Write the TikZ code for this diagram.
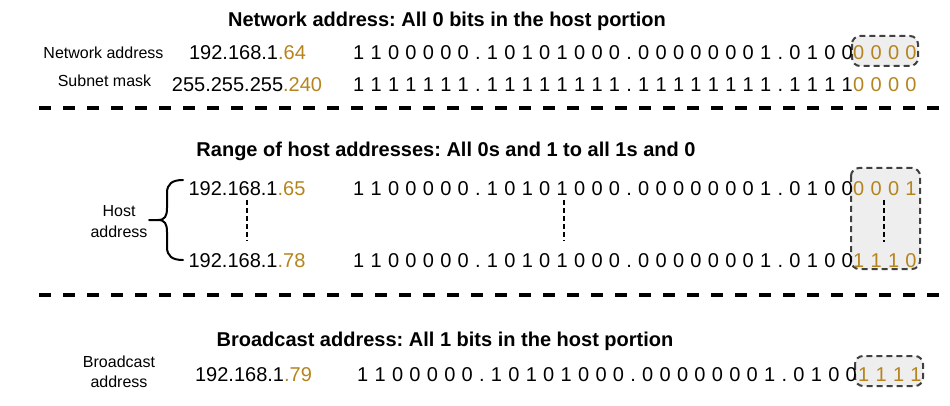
\documentclass[tikz,border=0pt]{standalone}
\usepackage{fontspec}
\usepackage{xcolor}
\setmainfont{Liberation Sans}
\newfontfamily\bitfont[LetterSpace=31.5,Kerning=Off]{Liberation Sans}
\definecolor{hostpart}{RGB}{181,132,30}
\definecolor{hostfill}{RGB}{238,238,238}
\definecolor{boxline}{RGB}{64,64,64}
\newcommand{\hp}[1]{\textcolor{hostpart}{#1}}
\tikzstyle{heading}=[anchor=base, font=\fontsize{20}{24}\selectfont\bfseries]
\tikzstyle{rowname}=[anchor=base, font=\fontsize{16}{19}\selectfont]
\tikzstyle{ip}=[anchor=base, font=\fontsize{20}{24}\selectfont]
\tikzstyle{bits}=[anchor=base west, inner sep=0pt, font=\fontsize{20}{24}\selectfont\bitfont]
\tikzstyle{hostbits}=[bits, text=hostpart]
\tikzstyle{hostbox}=[draw=boxline, fill=hostfill, line width=2pt, dash pattern=on 6pt off 4pt, rounded corners=8pt]
\tikzstyle{divider}=[line width=4pt, dash pattern=on 12pt off 12pt]
\tikzstyle{more}=[line width=2pt, dash pattern=on 5pt off 3pt]
\tikzstyle{brace}=[line width=2pt, line cap=round]
\frenchspacing

\begin{document}
\begin{tikzpicture}[x=1pt,y=-1pt]
  \useasboundingbox (0,0) rectangle (950,406);

  %% Network address
  \draw (447,27) node[heading] (T1) {Network address: All 0 bits in the host portion};
  \draw[hostbox] (852,36) rectangle (918,66);
  \draw (103.5,59) node[rowname] (L1) {Network address};
  \draw (247.5,60) node[ip] (A1) {192.168.1\hp{.64}};
  \draw (353,60) node[bits] (B1) {1100000.10101000.00000001.0100};
  \draw (853,60) node[hostbits] (H1) {0000};

  \draw (104.5,87) node[rowname] (L2) {Subnet mask};
  \draw (247,91.5) node[ip] (A2) {255.255.255\hp{.240}};
  \draw (353,92) node[bits] (B2) {1111111.11111111.11111111.1111};
  \draw (853,92) node[hostbits] (H2) {0000};

  \draw[divider] (39,108) -- (950,108);

  %% Range of host addresses
  \draw (446,157) node[heading] (T2) {Range of host addresses: All 0s and 1 to all 1s and 0};
  \draw[hostbox] (851,168) rectangle (920,269);
  \draw (119,217) node[rowname] (L3) {Host};
  \draw (119,237) node[rowname] (L4) {address};
  \draw[brace] (183,180) .. controls (172,180) and (167,184) .. (167,193) -- (167,208)
    .. controls (167,216) and (165,220) .. (158,220) -- (149,220);
  \draw[brace] (183,260) .. controls (172,260) and (167,256) .. (167,247) -- (167,232)
    .. controls (167,224) and (165,220) .. (158,220);
  \draw (247,195.5) node[ip] (A3) {192.168.1\hp{.65}};
  \draw (353,195.5) node[bits] (B3) {1100000.10101000.00000001.0100};
  \draw (853,195.5) node[hostbits] (H3) {0001};
  \draw (247,267.5) node[ip] (A4) {192.168.1\hp{.78}};
  \draw (353,267.5) node[bits] (B4) {1100000.10101000.00000001.0100};
  \draw (853,267.5) node[hostbits] (H4) {1110};
  \draw[more] (247,200) -- (247,241);
  \draw[more] (564,200) -- (564,241);
  \draw[more] (884,200) -- (884,242);

  \draw[divider] (39,295) -- (950,295);

  %% Broadcast address
  \draw (445,346) node[heading] (T3) {Broadcast address: All 1 bits in the host portion};
  \draw[hostbox] (855,356) rectangle (923,386);
  \draw (119,367) node[rowname] (L5) {Broadcast};
  \draw (119,387) node[rowname] (L6) {address};
  \draw (253.5,381) node[ip] (A5) {192.168.1\hp{.79}};
  \draw (357,381) node[bits] (B5) {1100000.10101000.00000001.0100};
  \draw (858,381) node[hostbits] (H5) {1111};
\end{tikzpicture}
\end{document}
